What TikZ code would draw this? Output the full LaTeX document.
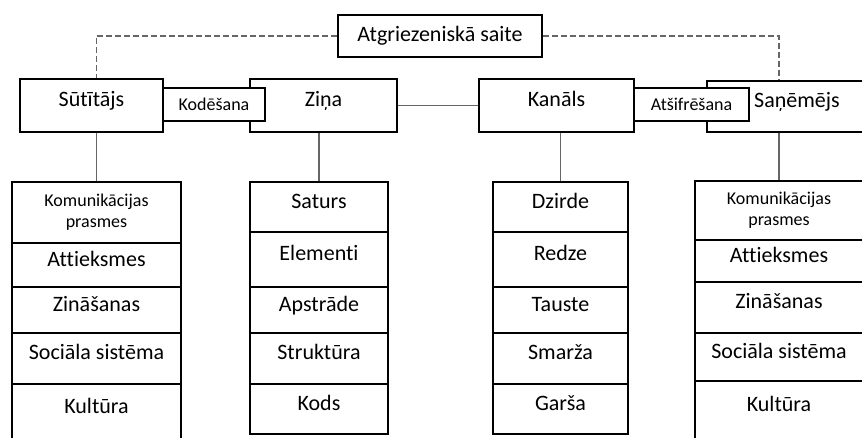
\documentclass[tikz,border=0pt]{standalone}
\usepackage{fontspec}
\setmainfont[Ligatures=NoCommon]{Carlito}
\usepackage{tikz}
\usetikzlibrary{calc,positioning}

\begin{document}
\begin{tikzpicture}[x=1pt,y=-1pt]
\tikzstyle{every node}=[rectangle, draw, fill=white, line width=1.1pt,
                        inner sep=0pt, font=\fontsize{22}{26}\selectfont]
\tikzstyle{word}=[text height=12pt, text depth=10pt]
\tikzstyle{small}=[font=\fontsize{18}{21}\selectfont, align=center]
\tikzstyle{link}=[draw=black!60, line width=1.6pt]
\clip (0,0) rectangle (862,437);
% top row
\node[minimum width=204pt, minimum height=42pt] (A) at (440,36) {Atgriezeniskā saite};
\node[word, minimum width=143pt, minimum height=53pt] (S) at (91.5,105.5) {Sūtītājs};
\node[word, minimum width=147pt, minimum height=53pt] (Z) at (323.5,105.5) {Ziņa};
\node[word, minimum width=155pt, minimum height=53pt] (K) at (556.5,105.5) {Kanāls};
\node[word, minimum width=180pt, minimum height=51pt] (R) at (797,106.5) {Saņēmējs};
\node[small, minimum width=102pt, minimum height=33pt] (E) at (214,104.5) {Kodēšana};
\node[small, minimum width=115pt, minimum height=33pt] (D) at (691.5,104.5) {Atšifrēšana};
% columns
\node[small, minimum width=169pt, minimum height=61pt] (s1) at (96.5,212.5) {Komunikācijas\\prasmes};
\foreach \n/\y/\h/\t in {2/265/44pt/Attieksmes, 3/310/46pt/Zināšanas,
                         4/358.5/51pt/Sociāla sistēma, 5/412/56pt/Kultūra}
  {\node[word, minimum width=169pt, minimum height=\h] (s\n) at (96.5,\y) {\t};}
\foreach \n/\y/\h/\t in {1/207/50pt/Saturs, 2/259.5/55pt/Elementi, 3/310/46pt/Apstrāde,
                         4/358.5/51pt/Struktūra, 5/409/50pt/Kods}
  {\node[word, minimum width=138pt, minimum height=\h] (z\n) at (319,\y) {\t};}
\foreach \n/\y/\h/\t in {1/207/50pt/Dzirde, 2/259.5/55pt/Redze, 3/310/46pt/Tauste,
                         4/358.5/51pt/Smarža, 5/409/50pt/Garša}
  {\node[word, minimum width=135pt, minimum height=\h] (k\n) at (560.5,\y) {\t};}
\node[small, minimum width=168pt, minimum height=59pt] (r1) at (779,210.5) {Komunikācijas\\prasmes};
\foreach \n/\y/\h/\t in {2/261/42pt/Attieksmes, 3/307.5/51pt/Zināšanas,
                         4/357/48pt/Sociāla sistēma, 5/410.5/59pt/Kultūra}
  {\node[word, minimum width=168pt, minimum height=\h] (r\n) at (779,\y) {\t};}
% connectors
\draw[link] (Z) -- (K);
\foreach \i/\j in {S/s1,Z/z1,K/k1,R/r1}{\draw[link] (\j.north |- \i.south) -- (\j.north);}
\draw[link, line width=1.3pt, dash pattern=on 6pt off 3pt] (A.west) -| (s1.north |- S.north);
\draw[link, line width=1.3pt, dash pattern=on 6pt off 3pt] (A.east) -| (r1.north |- R.north);
\end{tikzpicture}
\end{document}
